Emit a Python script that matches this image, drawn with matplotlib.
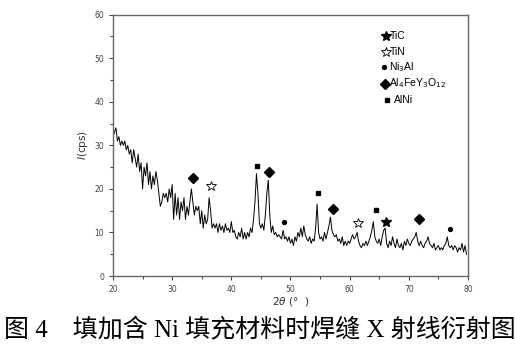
import numpy as np
import matplotlib
matplotlib.use('Agg')
import matplotlib.pyplot as plt

# 2theta scan grid (degrees) and intensity
two_theta = np.arange(20, 80.01, 0.25)
intensity = [
    32, 33, 34, 31, 32, 30, 31, 30, 31, 29, 30, 28, 29, 26, 29, 27, 25, 28, 24, 26,      # 20-24.75
    20, 25, 23, 26, 21, 24, 20, 23, 21, 24, 22, 19, 16, 17, 19, 18, 19, 17, 20, 18,      # 25-29.75
    21, 13, 19, 14, 18, 13, 17, 15, 18, 13, 16, 14, 17, 20, 17, 14, 16, 15, 16, 12,      # 30-34.75
    15, 11, 14, 12, 13, 18, 15, 11, 12, 11, 12, 10, 12, 10.5, 11.5, 10, 12, 10.5, 11, 10,  # 35-39.75
    12.5, 10, 10.5, 9, 8.5, 10, 9, 11, 8.5, 10, 8.5, 10, 9, 11, 10, 13, 17, 23.5, 19, 12,  # 40-44.75
    11, 12, 10.5, 14, 19, 22, 14, 10, 11.5, 9.5, 10, 9, 9.5, 9, 8.5, 10.5, 8.5, 9, 8, 9,  # 45-49.75
    7.5, 8.5, 7, 9, 8, 10, 9, 11, 9, 11.5, 9.5, 8.5, 8, 9, 7.5, 8.5, 8, 11, 16.5, 10,     # 50-54.75
    8.5, 9, 8, 10, 8.5, 10, 11.5, 13.5, 10.5, 9.5, 9, 9.5, 8, 8.5, 7.5, 9, 7, 8, 7, 8,    # 55-59.75
    7.5, 8.5, 9.5, 8.5, 9, 10, 8, 7, 6.5, 7.5, 7, 8, 7, 8, 9, 10.5, 12.5, 9, 8, 7.5,      # 60-64.75
    8.5, 7, 9, 10.5, 11, 7.5, 6.5, 8, 7, 9, 7.5, 6.5, 8.5, 7, 6.5, 7.5, 6, 8, 7, 8.5,     # 65-69.75
    7.5, 7, 8, 8.5, 9, 10, 8, 7, 8, 7, 6.5, 7.5, 8, 9, 7.5, 7, 6.5, 7.5, 6, 6.5,          # 70-74.75
    7, 6, 6.5, 6, 7, 7.5, 9, 7, 6.5, 7, 6, 7, 6.5, 5.5, 6.5, 6, 7.5, 5.5, 7,              # 75-79.5
    5,
]
intensity = intensity[:len(two_theta)]
two_theta = two_theta[:len(intensity)]

# phase markers above the peaks
phase_x = [33.45, 36.5, 44.27, 46.35, 48.9, 54.7, 57.2, 61.4, 64.5, 66.2, 71.75, 76.9]
phase_y = [22.4, 20.7, 25.3, 23.8, 12.3, 19.1, 15.5, 12.2, 15.2, 12.5, 13.2, 10.9]
phase_kind = ['D', 'TiN', 's', 'D', 'o', 's', 'D', 'TiN', 's', 'TiC', 'D', 'o']

# key in the upper right
legend_kind = ['TiC', 'TiN', 'o', 'D', 's']
legend_text = ['TiC', 'TiN', 'Ni$_3$Al', 'Al$_4$FeY$_3$O$_{12}$', 'AlNi']
legend_mx = [66.14, 66.14, 65.8, 66.05, 66.31]
legend_tx = [66.8, 66.8, 66.6, 66.65, 67.45]
legend_y = [55.2, 51.4, 48.0, 44.2, 40.4]


def draw_marker(ax, x, y, kind):
    if kind == 'TiC':
        ax.plot(x, y, marker='*', ms=7, color='black', ls='none')
    elif kind == 'TiN':
        ax.plot(x, y, marker='*', ms=7, mfc='white', mec='black', mew=0.6, ls='none')
    elif kind == 'o':
        ax.plot(x, y, marker='o', ms=2.8, color='black', ls='none')
    elif kind == 'D':
        ax.plot(x, y, marker='D', ms=4.6, color='black', ls='none')
    elif kind == 's':
        ax.plot(x, y, marker='s', ms=3.4, color='black', ls='none')


fig = plt.figure(figsize=(5.15, 3.6), dpi=100)
ax = fig.add_axes([0.2194, 0.2333, 0.6893, 0.7258])
ax.plot(two_theta, intensity, color='black', lw=0.7)

for x, y, k in zip(phase_x, phase_y, phase_kind):
    draw_marker(ax, x, y, k)

for k, t, mx, tx, y in zip(legend_kind, legend_text, legend_mx, legend_tx, legend_y):
    draw_marker(ax, mx, y, k)
    ax.text(tx, y, t, fontsize=7.5, va='center', ha='left', family='Liberation Sans')

ax.set_xlim(20, 80)
ax.set_ylim(0, 60)
ax.set_xticks(range(20, 81, 10))
ax.set_yticks(range(0, 61, 10))
ax.set_xticks(range(25, 80, 10), minor=True)
ax.set_yticks(range(5, 60, 10), minor=True)
ax.tick_params(labelsize=5.5, colors='#444444', length=3, width=0.8)
ax.tick_params(which='minor', length=2, width=0.8, colors='#444444')
for s in ax.spines.values():
    s.set_color('#666666')
    s.set_linewidth(1.0)

ax.set_xlabel(r'2$\theta$ (°  )', fontsize=7.5, color='#333333', labelpad=1)
ax.set_ylabel(r'$I$(cps)', fontsize=7.5, color='#333333', labelpad=3)

fig.text(0.504, 0.083, '图 4    填加含 Ni 填充材料时焊缝 X 射线衍射图', ha='center', va='center',
         fontsize=18, family=['Liberation Serif', 'Noto Sans CJK SC'])

fig.savefig('out.png', dpi=100)
